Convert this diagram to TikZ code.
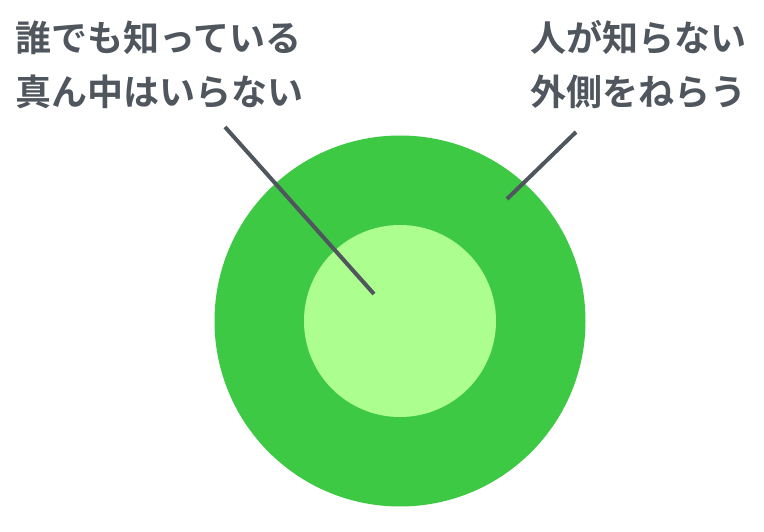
\documentclass[tikz,border=0pt]{standalone}
\usepackage{fontspec}
\newfontfamily\jpfont{Noto Sans CJK JP}[BoldFont={Noto Sans CJK JP Bold}]
\usepackage{tikz}
\definecolor{outergreen}{HTML}{3EC944}
\definecolor{innergreen}{HTML}{ACFE8E}
\definecolor{inkgray}{HTML}{50565E}

\begin{document}
\begin{tikzpicture}[x=1pt,y=1pt]
\tikzstyle{every node}+=[inner sep=0pt]
\tikzstyle{ring}=[circle,draw=none]
\tikzstyle{caption}=[anchor=base west,align=left,text=inkgray,font=\jpfont\bfseries\fontsize{36}{54}\selectfont]
\tikzstyle{pointer}=[draw=inkgray,line width=4pt]
\useasboundingbox (0,0) rectangle (764,-532);
\node [ring,fill=outergreen,minimum size=371pt] (outer) at (400,-321) {};
\node [ring,fill=innergreen,minimum size=192pt] (inner) at (400,-321) {};
% anchor sits on the baseline of the last line
\node [caption] (center) at (15,-106) {誰でも知っている\\真ん中はいらない};
\node [caption] (edge) at (530,-106) {人が知らない\\外側をねらう};
\coordinate (centertail) at (225,-127);
\coordinate (centertip) at (374,-294);
\coordinate (edgetail) at (576,-132);
\coordinate (edgetip) at (507,-199);
\draw [pointer] (centertail) -- (centertip);
\draw [pointer] (edgetail) -- (edgetip);
\end{tikzpicture}
\end{document}
